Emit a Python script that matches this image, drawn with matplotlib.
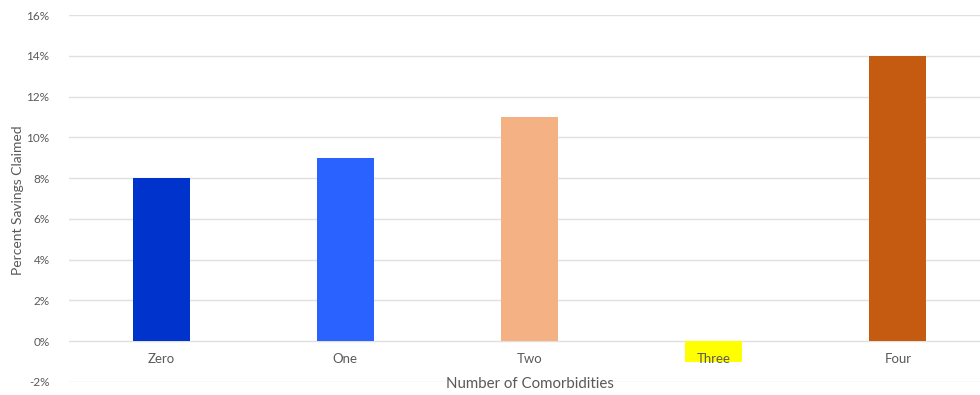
import matplotlib.pyplot as plt
from matplotlib.ticker import FuncFormatter

categories = ["Zero", "One", "Two", "Three", "Four"]
savings = [8, 9, 11, -1, 14]
bar_colors = ["#0033CC", "#2962FF", "#F4B183", "#FFFF00", "#C55A11"]
y_ticks = [-2, 0, 2, 4, 6, 8, 10, 12, 14, 16]

plt.rcParams["font.family"] = ["Lato", "DejaVu Sans"]
text_color = "#595959"

fig = plt.figure(figsize=(9.8, 3.95), dpi=100)
ax = fig.add_axes([69 / 980, 13 / 395, 921 / 980, 367 / 395])

x = list(range(len(categories)))
ax.bar(x, savings, width=0.31, color=bar_colors, zorder=3)

ax.set_xlim(-0.5, 4.5)
ax.set_ylim(-2, 16)
ax.set_yticks(y_ticks)
ax.yaxis.set_major_formatter(FuncFormatter(lambda v, p: f"{v:.0f}%"))
ax.grid(axis="y", color="#E0E0E0", linewidth=1, zorder=0)
ax.tick_params(axis="y", length=0, pad=14, labelsize=8.5, labelcolor=text_color)
ax.set_xticks([])
for s in ax.spines.values():
    s.set_visible(False)

for xi, name in zip(x, categories):
    ax.text(xi, -0.6, name, ha="center", va="top", fontsize=9.5, color=text_color, zorder=4)

ax.text(2, -2.12, "Number of Comorbidities", ha="center", va="center",
        fontsize=10.8, color=text_color, zorder=4)
fig.text(18 / 980, 1 - 200 / 395, "Percent Savings Claimed", rotation=90,
         ha="center", va="center", fontsize=10, color=text_color)

fig.savefig("out.png", dpi=100)
